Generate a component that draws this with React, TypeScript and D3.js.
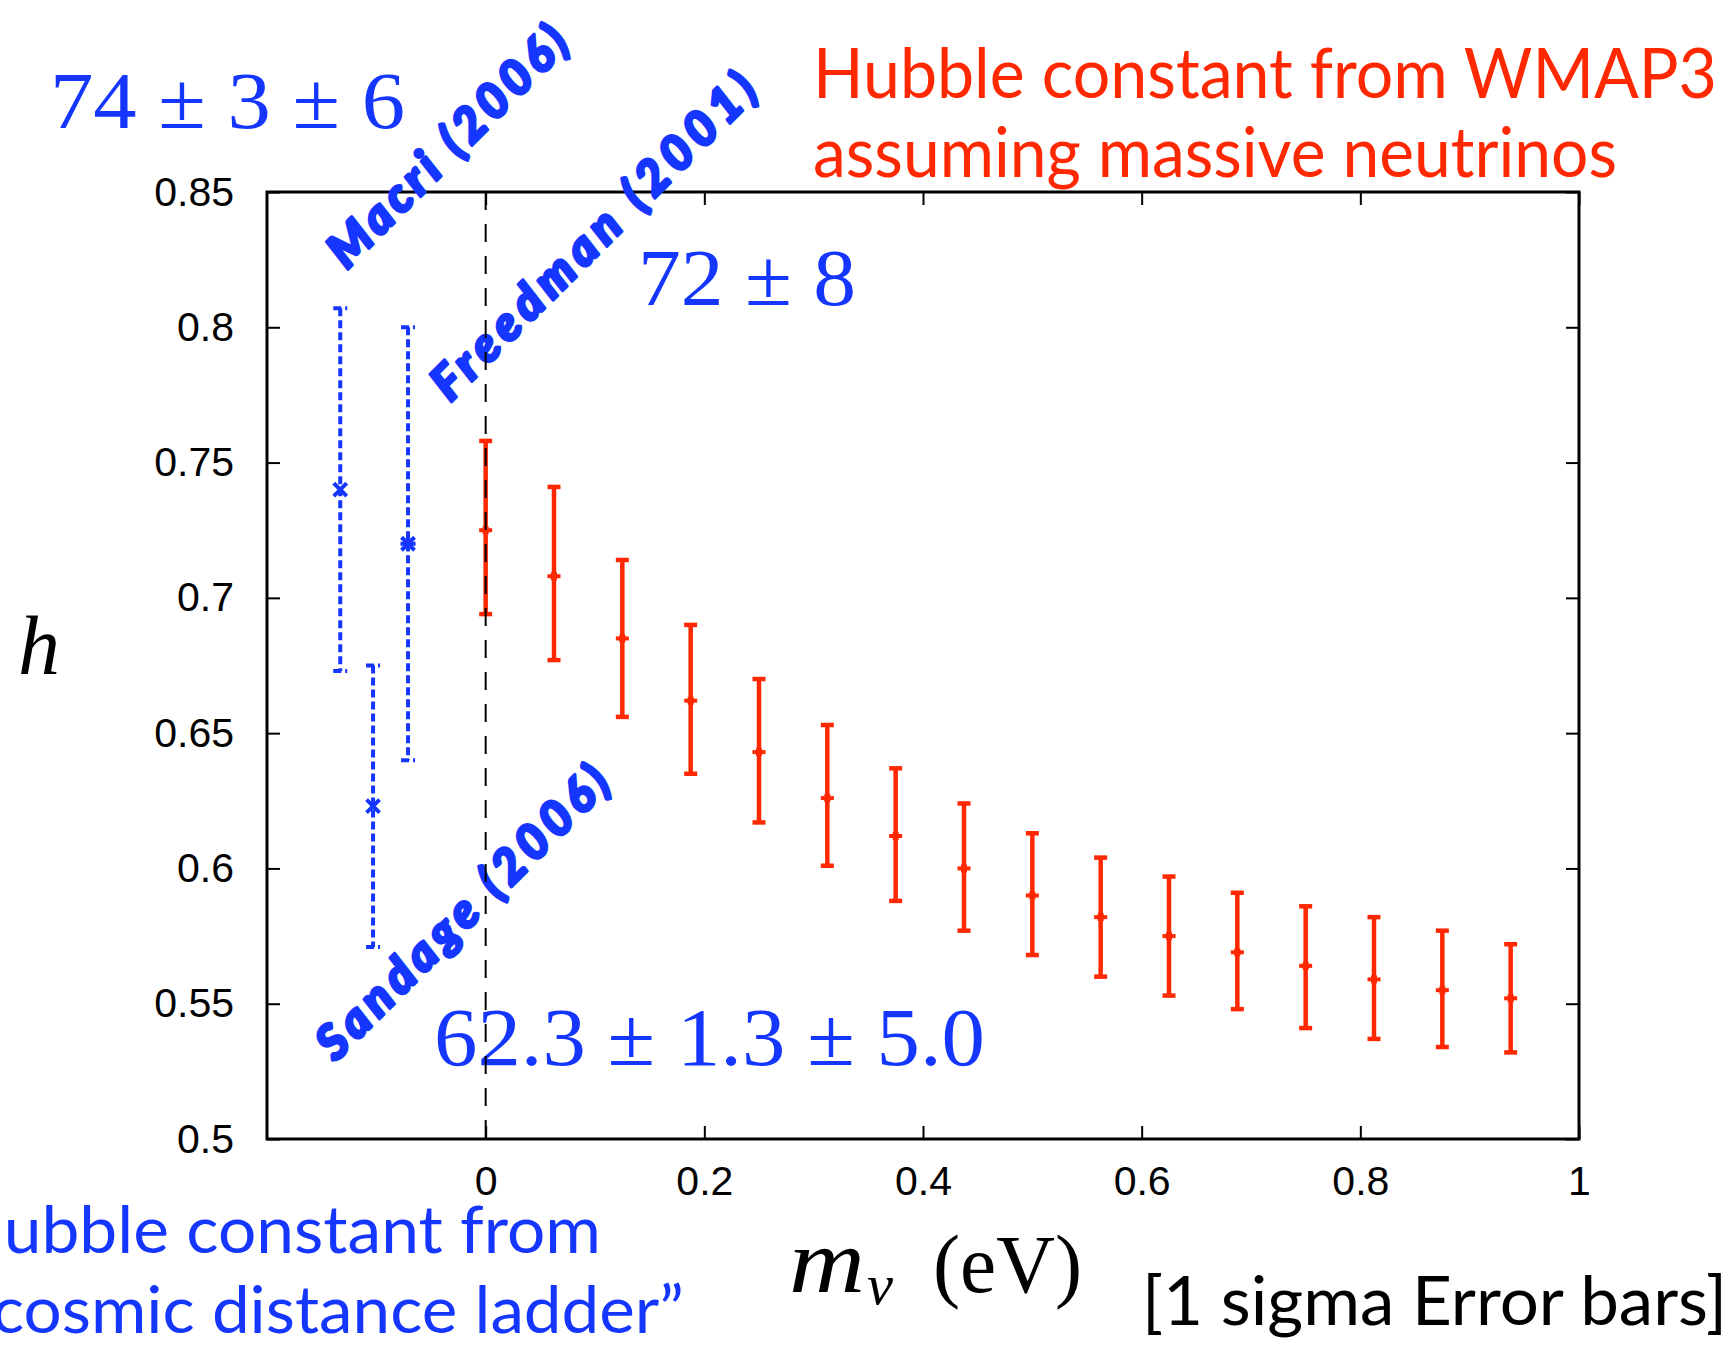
import * as d3 from "d3";

// WMAP3 Hubble constant vs neutrino mass (1 sigma)
const massEV = [0, 0.0625, 0.125, 0.1875, 0.25, 0.3125, 0.375, 0.4375, 0.5, 0.5625, 0.625, 0.6875, 0.75, 0.8125, 0.875, 0.9375];
const hWmap = [0.725, 0.708, 0.685, 0.662, 0.643, 0.626, 0.612, 0.600, 0.590, 0.582, 0.575, 0.569, 0.564, 0.559, 0.555, 0.552];
const hWmapLow = [0.694, 0.677, 0.656, 0.635, 0.617, 0.601, 0.588, 0.577, 0.568, 0.560, 0.553, 0.548, 0.541, 0.537, 0.534, 0.532];
const hWmapHigh = [0.758, 0.741, 0.714, 0.690, 0.670, 0.653, 0.637, 0.624, 0.613, 0.604, 0.597, 0.591, 0.586, 0.582, 0.577, 0.572];

// distance ladder measurements
const ladderNames = ["Macri (2006)", "Sandage (2006)", "Freedman (2001)"];
const ladderX = [-0.133, -0.103, -0.071];
const ladderH = [0.74, 0.623, 0.72];
const ladderLow = [0.673, 0.571, 0.64];
const ladderHigh = [0.807, 0.675, 0.8];
const ladderMarker = ["x", "x", "star"];

const yTicks = [0.5, 0.55, 0.6, 0.65, 0.7, 0.75, 0.8, 0.85];
const yTickLabels = ["0.5", "0.55", "0.6", "0.65", "0.7", "0.75", "0.8", "0.85"];
const xTicks = [0, 0.2, 0.4, 0.6, 0.8, 1];
const xTickLabels = ["0", "0.2", "0.4", "0.6", "0.8", "1"];

const W = 1731;
const H = 1350;
const margin = { top: 192, right: 152, bottom: 211, left: 267 };

const BLUE = "#1536ff";
const RED = "#ff2800";
const SANS = "Lato, 'Open Sans', sans-serif";
const SERIF = "'Liberation Serif', 'DejaVu Serif', serif";
const TICKFONT = "'Liberation Sans', Arial, sans-serif";

function styleAxis(node: SVGGElement, axis: any, labels: boolean) {
  const g = d3.select(node);
  g.call(axis);
  g.select(".domain").remove();
  g.attr("font-size", 41).attr("font-family", TICKFONT);
  g.selectAll(".tick line").attr("stroke", "#000").attr("stroke-width", 2);
  g.selectAll(".tick text").attr("fill", "#000");
  if (!labels) g.selectAll(".tick text").remove();
}

export default function App() {
  const x = d3.scaleLinear().domain([-0.2, 1]).range([margin.left, W - margin.right]);
  const y = d3.scaleLinear().domain([0.5, 0.85]).range([H - margin.bottom, margin.top]);
  const cap = 6.5;

  return (
    <svg
      width={W}
      height={H}
      style={{ position: "absolute", left: 0, top: 0, background: "#fff" }}
    >
      {/* axes, gnuplot style inward ticks on all sides */}
      <g
        transform={`translate(0,${y(0.5)})`}
        ref={node => node && styleAxis(node, d3.axisBottom(x).tickValues(xTicks)
          .tickFormat((_d: any, i: number) => xTickLabels[i]).tickSize(-13).tickPadding(27), true)}
      />
      <g
        transform={`translate(0,${y(0.85)})`}
        ref={node => node && styleAxis(node, d3.axisTop(x).tickValues(xTicks).tickSize(-13), false)}
      />
      <g
        transform={`translate(${x(-0.2)},0)`}
        ref={node => node && styleAxis(node, d3.axisLeft(y).tickValues(yTicks)
          .tickFormat((_d: any, i: number) => yTickLabels[i]).tickSize(-13).tickPadding(33), true)}
      />
      <g
        transform={`translate(${x(1)},0)`}
        ref={node => node && styleAxis(node, d3.axisRight(y).tickValues(yTicks).tickSize(-13), false)}
      />
      <rect
        x={x(-0.2)}
        y={y(0.85)}
        width={x(1) - x(-0.2)}
        height={y(0.5) - y(0.85)}
        fill="none"
        stroke="#000"
        strokeWidth={3}
      />

      {/* rotated reference labels */}
      {[
        { cx: 446, cy: 145, len: 318 },
        { cx: 461, cy: 911, len: 392 },
        { cx: 592, cy: 235, len: 438 },
      ].map((p, i) => (
        <text
          key={ladderNames[i]}
          transform={`translate(${p.cx},${p.cy}) rotate(-45)`}
          textAnchor="middle"
          dominantBaseline="central"
          fontFamily={SANS}
          fontWeight={900}
          fontStyle="italic"
          fontSize={48}
          fill={BLUE}
          stroke={BLUE}
          strokeWidth={3}
          strokeLinejoin="round"
          textLength={p.len}
          lengthAdjust="spacing"
        >
          {ladderNames[i]}
        </text>
      ))}

      {/* math annotations */}
      <text x={50} y={128} fontFamily={SERIF} fontSize={80} fill={BLUE} textLength={355} lengthAdjust="spacingAndGlyphs">
        74 ± 3 ± 6
      </text>
      <text x={638} y={305} fontFamily={SERIF} fontSize={80} fill={BLUE} textLength={218} lengthAdjust="spacingAndGlyphs">
        72 ± 8
      </text>
      <text x={434} y={1065} fontFamily={SERIF} fontSize={82} fill={BLUE} textLength={551} lengthAdjust="spacingAndGlyphs">
        62.3 ± 1.3 ± 5.0
      </text>

      {/* WMAP3 error bars */}
      <g stroke={RED} strokeWidth={4.5}>
        {massEV.map((m, i) => (
          <g key={i}>
            <line x1={x(m)} x2={x(m)} y1={y(hWmapLow[i])} y2={y(hWmapHigh[i])} />
            <line x1={x(m) - cap} x2={x(m) + cap} y1={y(hWmapLow[i])} y2={y(hWmapLow[i])} />
            <line x1={x(m) - cap} x2={x(m) + cap} y1={y(hWmapHigh[i])} y2={y(hWmapHigh[i])} />
            <line x1={x(m) - cap} x2={x(m) + cap} y1={y(hWmap[i])} y2={y(hWmap[i])} strokeWidth={4} />
            <line x1={x(m)} x2={x(m)} y1={y(hWmap[i]) - 4} y2={y(hWmap[i]) + 4} strokeWidth={6} />
          </g>
        ))}
      </g>

      {/* distance ladder error bars */}
      <g stroke={BLUE} strokeWidth={4} fill="none">
        {ladderX.map((m, i) => {
          const cx = x(m);
          const cy = y(ladderH[i]);
          const r = 6.5;
          return (
            <g key={i}>
              <line x1={cx} x2={cx} y1={y(ladderHigh[i])} y2={y(ladderLow[i])} strokeDasharray="8 4" />
              <line x1={cx - 7} x2={cx + 7} y1={y(ladderHigh[i])} y2={y(ladderHigh[i])} strokeDasharray="8 4" />
              <line x1={cx - 7} x2={cx + 7} y1={y(ladderLow[i])} y2={y(ladderLow[i])} strokeDasharray="8 4" />
              <path d={`M${cx - r},${cy - r}L${cx + r},${cy + r}M${cx - r},${cy + r}L${cx + r},${cy - r}`} />
              {ladderMarker[i] === "star" && (
                <path d={`M${cx},${cy - r - 1}L${cx},${cy + r + 1}M${cx - r - 1},${cy}L${cx + r + 1},${cy}`} />
              )}
            </g>
          );
        })}
      </g>

      {/* m_nu = 0 reference */}
      <line
        x1={x(0)}
        x2={x(0)}
        y1={y(0.85)}
        y2={y(0.5)}
        stroke="#000"
        strokeWidth={2}
        strokeDasharray="18 14"
      />

      {/* axis titles */}
      <text x={18} y={674} fontFamily={SERIF} fontStyle="italic" fontSize={84} fill="#000">
        h
      </text>
      <text x={789} y={1292} fontFamily={SERIF} fontStyle="italic" fontSize={92} fill="#000" textLength={76} lengthAdjust="spacingAndGlyphs">
        m
      </text>
      <text x={867} y={1304} fontFamily={SERIF} fontStyle="italic" fontSize={56} fill="#000" textLength={26} lengthAdjust="spacingAndGlyphs">
        ν
      </text>
      <text x={933} y={1292} fontFamily={SERIF} fontSize={82} fill="#000" textLength={149} lengthAdjust="spacingAndGlyphs">
        (eV)
      </text>

      {/* captions */}
      <text x={813} y={98} fontFamily={SANS} fontSize={70} fill={RED} textLength={904} lengthAdjust="spacingAndGlyphs">
        Hubble constant from WMAP3
      </text>
      <text x={813} y={177} fontFamily={SANS} fontSize={70} fill={RED} textLength={804} lengthAdjust="spacingAndGlyphs">
        assuming massive neutrinos
      </text>
      <text x={-72} y={1253} fontFamily={SANS} fontSize={66} fill={BLUE} textLength={673} lengthAdjust="spacingAndGlyphs">
        “Hubble constant from
      </text>
      <text x={-8} y={1333} fontFamily={SANS} fontSize={66} fill={BLUE} textLength={692} lengthAdjust="spacingAndGlyphs">
        cosmic distance ladder”
      </text>
      <text x={1142} y={1325} fontFamily={SANS} fontSize={68} fill="#000" textLength={585} lengthAdjust="spacingAndGlyphs">
        [1 sigma Error bars]
      </text>
    </svg>
  );
}
